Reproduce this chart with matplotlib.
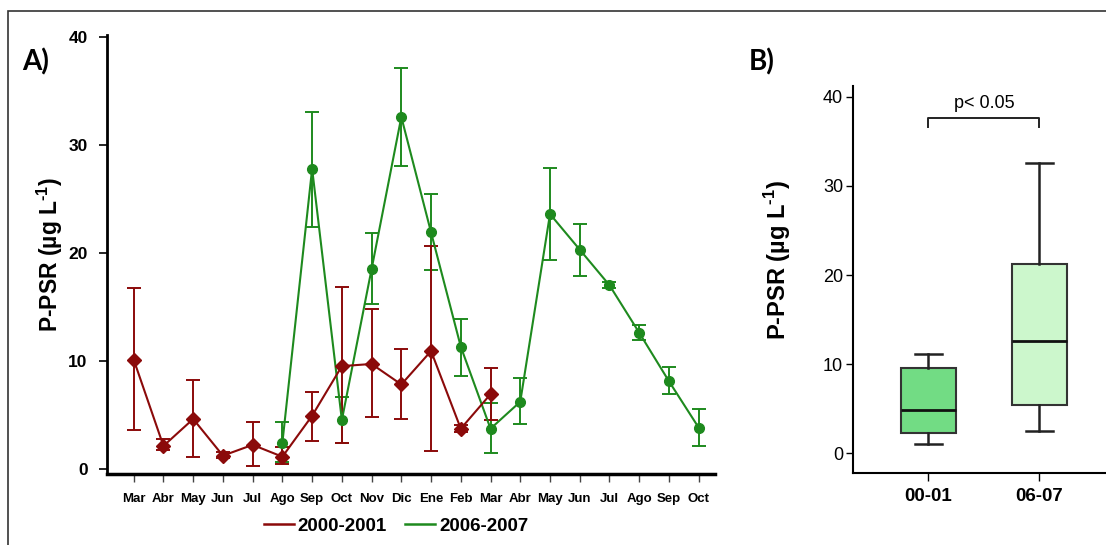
import matplotlib
matplotlib.use("Agg")
import matplotlib.pyplot as plt
from matplotlib.patches import Rectangle
from matplotlib.lines import Line2D

# ---------------- data ----------------
months = ["Mar", "Abr", "May", "Jun", "Jul", "Ago", "Sep", "Oct", "Nov", "Dic",
          "Ene", "Feb", "Mar", "Abr", "May", "Jun", "Jul", "Ago", "Sep", "Oct"]

# 2000-2001 series: Mar (idx 0) .. Mar (idx 12)
s1_idx = list(range(0, 13))
s1_mean = [10.1, 2.1, 4.6, 1.2, 2.2, 1.1, 4.9, 9.5, 9.7, 7.8, 10.9, 3.7, 6.9]
s1_low = [3.6, 1.7, 1.1, 1.0, 0.2, 0.4, 2.6, 2.4, 4.8, 4.6, 1.6, 3.4, 4.5]
s1_high = [16.7, 2.7, 8.2, 1.5, 4.3, 2.0, 7.1, 16.8, 14.8, 11.1, 20.6, 4.0, 9.3]

# 2006-2007 series: Ago (idx 5) .. Oct (idx 19)
s2_idx = list(range(5, 20))
s2_mean = [2.4, 27.8, 4.5, 18.5, 32.6, 21.9, 11.3, 3.7, 6.2, 23.6, 20.3, 17.0, 12.6, 8.1, 3.8]
s2_low = [0.6, 22.4, 2.4, 15.3, 28.1, 18.4, 8.6, 1.4, 4.1, 19.3, 17.9, 16.7, 11.9, 6.9, 2.1]
s2_high = [4.3, 33.1, 6.6, 21.8, 37.1, 25.5, 13.9, 6.1, 8.4, 27.9, 22.7, 17.3, 13.3, 9.4, 5.5]

series_labels = ["2000-2001", "2006-2007"]

# box plot stats (whisker low, Q1, median, Q3, whisker high)
box_groups = ["00-01", "06-07"]
box_wlo = [1.1, 2.5]
box_q1 = [2.3, 5.4]
box_med = [4.9, 12.6]
box_q3 = [9.6, 21.2]
box_whi = [11.1, 32.6]
ptext = "p< 0.05"

# ---------------- style ----------------
RED = "#8B0A0A"
GREEN = "#1E8A1E"
BOX_COLORS = ["#72DC84", "#CCF7CC"]

plt.rcParams["font.family"] = ["Liberation Sans", "DejaVu Sans"]
plt.rcParams["mathtext.fontset"] = "custom"
plt.rcParams["mathtext.rm"] = "Liberation Sans"
plt.rcParams["mathtext.bf"] = "Liberation Sans:bold"

fig = plt.figure(figsize=(11.06, 5.45), dpi=100)

# frame of the whole picture (top + left border visible)
fig.add_artist(Rectangle((8 / 1106, -0.1), 1.2, 1.1 - 11 / 545,
                         transform=fig.transFigure, fill=False,
                         edgecolor="#333333", linewidth=1.2))

YLABEL = "P-PSR (\u00b5g L$^{\\mathbf{\u2010}\\mathbf{1}}$)"

# ---------------- panel A ----------------
axA = fig.add_axes([0.0967, 0.1303, 0.5498, 0.8055])


def draw_series(ax, idx, mean, low, high, color, marker, ms, label):
    yerr = [[m - l for m, l in zip(mean, low)], [h - m for m, h in zip(mean, high)]]
    ax.errorbar(idx, mean, yerr=yerr, color=color, marker=marker, markersize=ms,
                linewidth=1.5, elinewidth=1.4, capsize=5, capthick=1.4, label=label)


draw_series(axA, s2_idx, s2_mean, s2_low, s2_high, GREEN, "o", 7, series_labels[1])
draw_series(axA, s1_idx, s1_mean, s1_low, s1_high, RED, "D", 7, series_labels[0])

axA.set_xlim(-0.9, 19.55)
axA.set_ylim(-0.5, 40.2)
axA.set_yticks([0, 10, 20, 30, 40])
axA.set_xticks(range(len(months)))
axA.set_xticklabels(months, fontsize=9.5, fontweight="bold")
for lab in axA.get_yticklabels():
    lab.set_fontsize(12.5)
    lab.set_fontweight("bold")
axA.tick_params(axis="x", length=6, width=1.0, pad=8, color="#444444")
axA.tick_params(axis="y", length=6, width=1.2, pad=8)
for s in ["top", "right"]:
    axA.spines[s].set_visible(False)
axA.spines["left"].set_linewidth(2.0)
axA.spines["bottom"].set_linewidth(2.5)
axA.set_ylabel(YLABEL, fontsize=16.5, fontweight="bold", labelpad=2)

fig.text(22 / 1106, 0.886, "A)", fontsize=20, fontweight="bold", family=["Lato", "DejaVu Sans"],
         ha="left", va="center")

handles = [Line2D([], [], color=RED, linewidth=1.8), Line2D([], [], color=GREEN, linewidth=1.8)]
fig.legend(handles, series_labels, loc="center", bbox_to_anchor=(396 / 1106, 1 - 526 / 545),
           ncol=2, frameon=False, handlelength=1.6, handletextpad=0.2,
           columnspacing=1.0, prop={"size": 13.5, "weight": "bold"})

# ---------------- panel B ----------------
axB = fig.add_axes([0.7712, 0.1321, 0.2288, 0.7101])
stats = []
for g, wl, q1, md, q3, wh in zip(box_groups, box_wlo, box_q1, box_med, box_q3, box_whi):
    stats.append({"label": g, "whislo": wl, "q1": q1, "med": md, "q3": q3, "whishi": wh, "fliers": []})
bp = axB.bxp(stats, positions=[0, 1], widths=0.5, patch_artist=True, showfliers=False,
             boxprops=dict(edgecolor="#333333", linewidth=1.5),
             medianprops=dict(color="#111111", linewidth=2.0),
             whiskerprops=dict(color="#222222", linewidth=1.8),
             capprops=dict(color="#222222", linewidth=1.8))
for patch, c in zip(bp["boxes"], BOX_COLORS):
    patch.set_facecolor(c)

axB.set_xlim(-0.68, 1.6)
axB.set_ylim(-2.2, 41.2)
axB.set_yticks([0, 10, 20, 30, 40])
axB.set_xticks([0, 1])
axB.set_xticklabels(box_groups, fontsize=13.5, fontweight="bold")
for lab in axB.get_yticklabels():
    lab.set_fontsize(13)
axB.tick_params(axis="y", length=5, width=1.0, pad=2)
axB.tick_params(axis="x", length=6, width=1.0, pad=5)
for s in ["top", "right"]:
    axB.spines[s].set_visible(False)
axB.spines["left"].set_linewidth(1.5)
axB.spines["bottom"].set_linewidth(1.5)
axB.set_ylabel(YLABEL, fontsize=17, fontweight="bold")
axB.yaxis.set_label_coords(-0.235, 0.55)

# significance bracket
axB.plot([0, 0, 1, 1], [36.6, 37.6, 37.6, 36.6], color="#222222", linewidth=1.4)
axB.text(0.5, 38.3, ptext, ha="center", va="bottom", fontsize=13)

fig.text(749 / 1106, 0.886, "B)", fontsize=20, fontweight="bold", family=["Lato", "DejaVu Sans"],
         ha="left", va="center")

fig.savefig("out.png", dpi=100)
